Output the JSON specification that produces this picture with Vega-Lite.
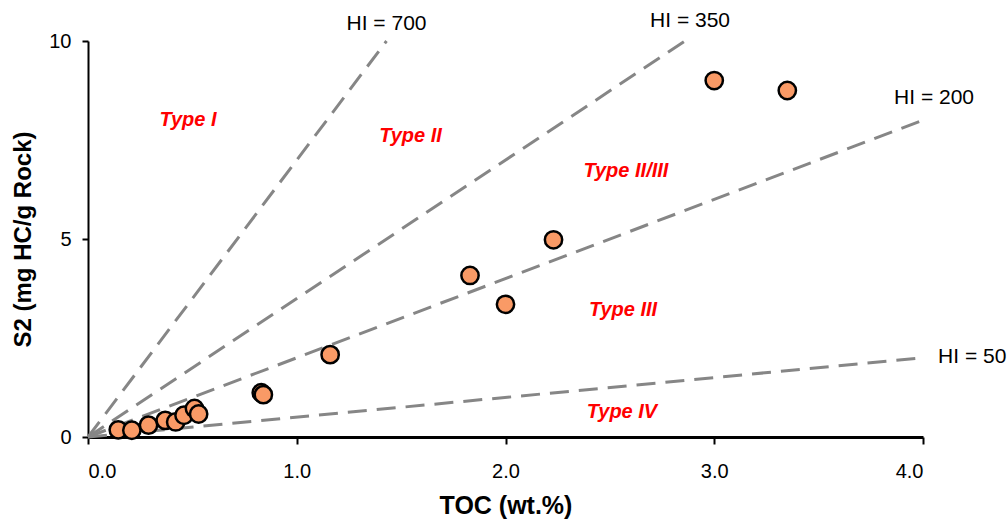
{
  "$schema": "https://vega.github.io/schema/vega-lite/v6.json",
  "width": 835,
  "height": 396,
  "autosize": "none",
  "padding": {"left": 88, "top": 41, "right": 85, "bottom": 88},
  "background": "white",
  "config": {
    "view": {"stroke": null},
    "font": "Liberation Sans"
  },
  "datasets": {
    "samples": [
      {"toc": 0.145, "s2": 0.18},
      {"toc": 0.21, "s2": 0.17},
      {"toc": 0.29, "s2": 0.3},
      {"toc": 0.37, "s2": 0.42},
      {"toc": 0.42, "s2": 0.38},
      {"toc": 0.46, "s2": 0.55},
      {"toc": 0.51, "s2": 0.72},
      {"toc": 0.53, "s2": 0.58},
      {"toc": 0.83, "s2": 1.12},
      {"toc": 0.84, "s2": 1.07},
      {"toc": 1.16, "s2": 2.08},
      {"toc": 1.83, "s2": 4.08},
      {"toc": 2.0, "s2": 3.35},
      {"toc": 2.23, "s2": 4.98},
      {"toc": 3.0, "s2": 9.0},
      {"toc": 3.35, "s2": 8.75}
    ],
    "hiLines": [
      {"hi": "700", "toc": 0, "s2": 0},
      {"hi": "700", "toc": 1.43, "s2": 10},
      {"hi": "350", "toc": 0, "s2": 0},
      {"hi": "350", "toc": 2.86, "s2": 10},
      {"hi": "200", "toc": 0, "s2": 0},
      {"hi": "200", "toc": 4, "s2": 8},
      {"hi": "50", "toc": 0, "s2": 0},
      {"hi": "50", "toc": 4, "s2": 2}
    ],
    "hiLabels": [
      {"label": "HI = 700", "toc": 1.43, "s2": 10.43},
      {"label": "HI = 350", "toc": 2.884, "s2": 10.5},
      {"label": "HI = 200", "toc": 4.053, "s2": 8.56},
      {"label": "HI = 50", "toc": 4.236, "s2": 2.03}
    ],
    "typeLabels": [
      {"label": "Type I", "toc": 0.479, "s2": 8.0},
      {"label": "Type II", "toc": 1.545, "s2": 7.59},
      {"label": "Type II/III", "toc": 2.577, "s2": 6.72},
      {"label": "Type III", "toc": 2.563, "s2": 3.21},
      {"label": "Type IV", "toc": 2.558, "s2": 0.63}
    ]
  },
  "layer": [
    {
      "data": {"name": "hiLines"},
      "mark": {"type": "line", "color": "#868686", "strokeWidth": 3, "strokeDash": [19, 10]},
      "encoding": {
        "x": {
          "field": "toc", "type": "quantitative",
          "scale": {"domain": [0, 4], "nice": false, "zero": true},
          "axis": {
            "title": "TOC (wt.%)",
            "values": [0, 1, 2, 3, 4],
            "format": ".1f",
            "grid": false,
            "domainColor": "black",
            "domainWidth": 3,
            "tickColor": "black",
            "tickWidth": 2,
            "tickSize": 7,
            "labelFontSize": 20,
            "labelColor": "black",
            "labelPadding": 17,
            "titleFontSize": 25,
            "titleFontWeight": "bold",
            "titleColor": "black",
            "titlePadding": 12
          }
        },
        "y": {
          "field": "s2", "type": "quantitative",
          "scale": {"domain": [0, 10], "nice": false},
          "axis": {
            "title": "S2 (mg HC/g Rock)",
            "values": [0, 5, 10],
            "grid": false,
            "domainColor": "black",
            "domainWidth": 2,
            "tickColor": "black",
            "tickWidth": 2,
            "tickSize": 6,
            "labelFontSize": 20,
            "labelColor": "black",
            "labelPadding": 11,
            "titleFontSize": 24,
            "titleFontWeight": "bold",
            "titleColor": "black",
            "titlePadding": 13
          }
        },
        "detail": {"field": "hi"}
      }
    },
    {
      "data": {"name": "samples"},
      "mark": {"type": "point", "filled": true, "fill": "#F99A66", "stroke": "black", "strokeWidth": 2.5, "size": 300, "opacity": 1, "shape": "circle"},
      "encoding": {
        "x": {"field": "toc", "type": "quantitative"},
        "y": {"field": "s2", "type": "quantitative"}
      }
    },
    {
      "data": {"name": "hiLabels"},
      "mark": {"type": "text", "fontSize": 21, "color": "black", "align": "center", "baseline": "middle"},
      "encoding": {
        "x": {"field": "toc", "type": "quantitative"},
        "y": {"field": "s2", "type": "quantitative"},
        "text": {"field": "label"}
      }
    },
    {
      "data": {"name": "typeLabels"},
      "mark": {"type": "text", "fontSize": 20, "color": "#FF0000", "fontWeight": "bold", "fontStyle": "italic", "align": "center", "baseline": "middle"},
      "encoding": {
        "x": {"field": "toc", "type": "quantitative"},
        "y": {"field": "s2", "type": "quantitative"},
        "text": {"field": "label"}
      }
    }
  ]
}
